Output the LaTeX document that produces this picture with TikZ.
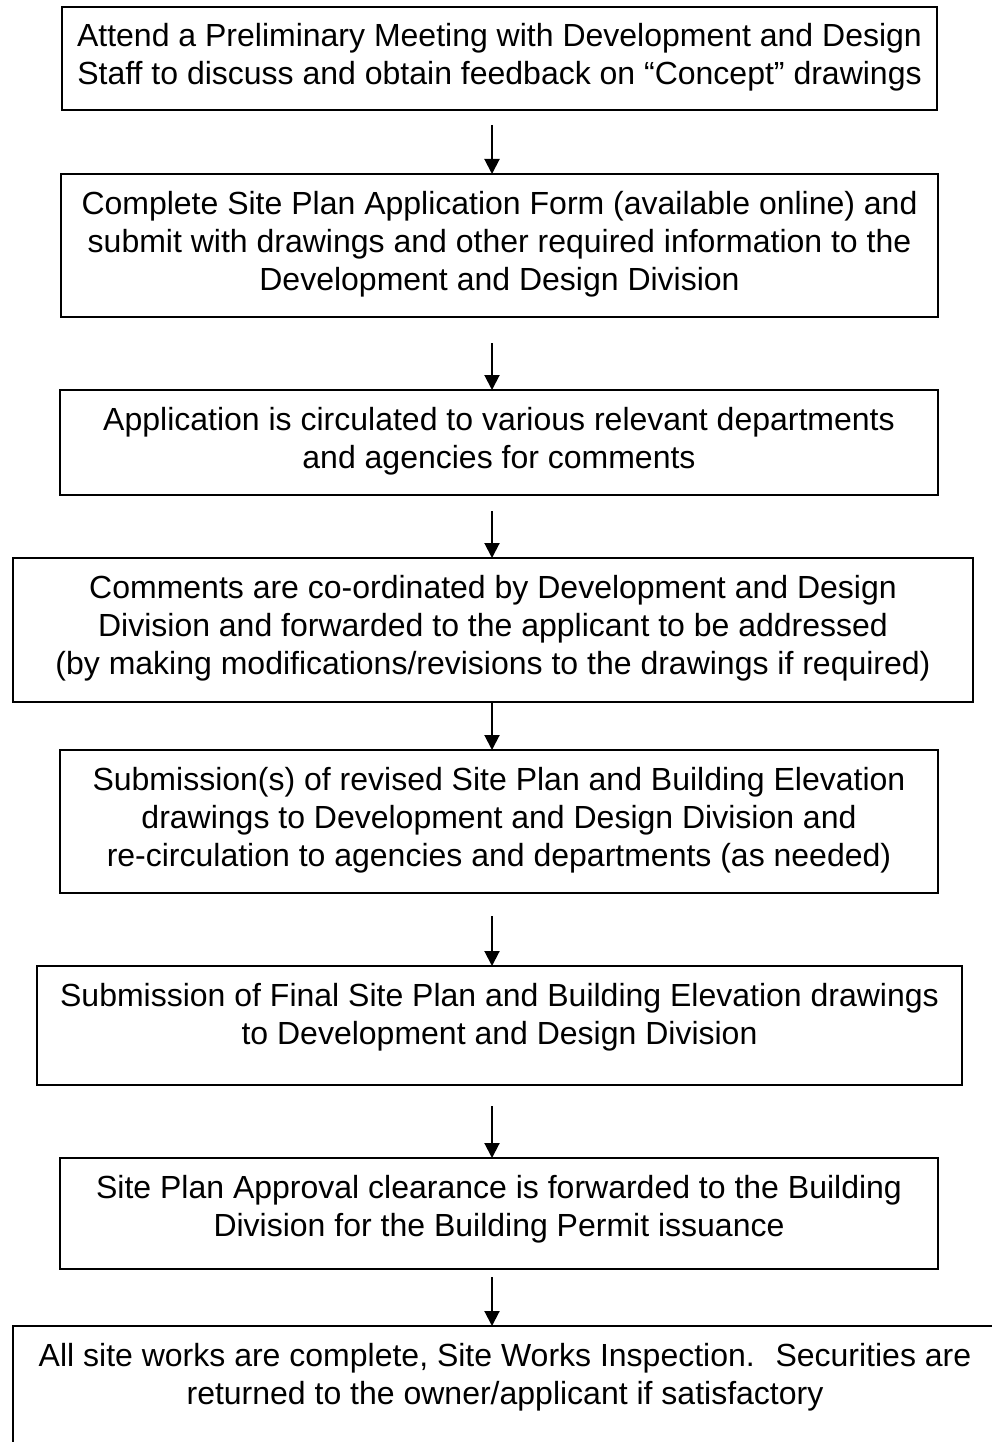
\documentclass[tikz,border=0pt]{standalone}
\usepackage{fontspec}
\setmainfont{Liberation Sans}
\usetikzlibrary{arrows.meta}
\tikzset{
  box/.style={draw=black, line width=2.5pt, rectangle, inner sep=0pt, outer sep=0pt, anchor=north west},
  txt/.style={anchor=north, inner sep=0pt, outer sep=0pt, align=center, font=\fontsize{32}{38}\selectfont},
  arr/.style={line width=2pt, -{Triangle[width=15pt,length=15pt]}}
}
\newcommand{\fs}{\rule{0pt}{30pt}}
\begin{document}
\begin{tikzpicture}[x=1pt,y=-1pt]
\useasboundingbox (0,0) rectangle (992,1442);
\clip (0,0) rectangle (992,1442);
\fill[white] (0,0) rectangle (992,1442);
\coordinate (ax) at (492,0);

\node[box, minimum width=875pt, minimum height=103pt] (b1) at (62,7) {};
\node[txt] (t1) at ([yshift=-10pt]b1.north) {\fs Attend a Preliminary Meeting with Development and Design\\Staff to discuss and obtain feedback on “Concept” drawings};

\node[box, minimum width=877pt, minimum height=143pt] (b2) at (61,174) {};
\node[txt] (t2) at ([yshift=-10pt]b2.north) {\fs Complete Site Plan Application Form (available online) and\\submit with drawings and other required information to the\\Development and Design Division};

\node[box, minimum width=878pt, minimum height=105pt] (b3) at (60,390) {};
\node[txt] (t3) at ([yshift=-10pt]b3.north) {\fs Application is circulated to various relevant departments\\and agencies for comments};

\node[box, minimum width=960pt, minimum height=144pt] (b4) at (13,558) {};
\node[txt] (t4) at ([yshift=-10pt]b4.north) {\fs Comments are co-ordinated by Development and Design\\Division and forwarded to the applicant to be addressed\\(by making modifications/revisions to the drawings if required)};

\node[box, minimum width=878pt, minimum height=143pt] (b5) at (60,750) {};
\node[txt] (t5) at ([yshift=-10pt]b5.north) {\fs Submission(s) of revised Site Plan and Building Elevation\\drawings to Development and Design Division and\\re-circulation to agencies and departments (as needed)};

\node[box, minimum width=925pt, minimum height=119pt] (b6) at (37,966) {};
\node[txt] (t6) at ([yshift=-10pt]b6.north) {\fs Submission of Final Site Plan and Building Elevation drawings\\to Development and Design Division};

\node[box, minimum width=878pt, minimum height=111pt] (b7) at (60,1158) {};
\node[txt] (t7) at ([yshift=-10pt]b7.north) {\fs Site Plan Approval clearance is forwarded to the Building\\Division for the Building Permit issuance};

\node[box, minimum width=984pt, minimum height=150pt] (b8) at (13,1326) {};
\node[txt] (t8) at ([yshift=-10pt]b8.north) {\fs All site works are complete, Site Works Inspection.~ Securities are\\returned to the owner/applicant if satisfactory};

\draw[arr, shorten <=15pt] (b1.south -| ax) -- (b2.north -| ax);
\draw[arr, shorten <=26pt] (b2.south -| ax) -- (b3.north -| ax);
\draw[arr, shorten <=16pt] (b3.south -| ax) -- (b4.north -| ax);
\draw[arr] (b4.south -| ax) -- (b5.north -| ax);
\draw[arr, shorten <=23pt] (b5.south -| ax) -- (b6.north -| ax);
\draw[arr, shorten <=21pt] (b6.south -| ax) -- (b7.north -| ax);
\draw[arr, shorten <=8pt] (b7.south -| ax) -- (b8.north -| ax);
\end{tikzpicture}
\end{document}
